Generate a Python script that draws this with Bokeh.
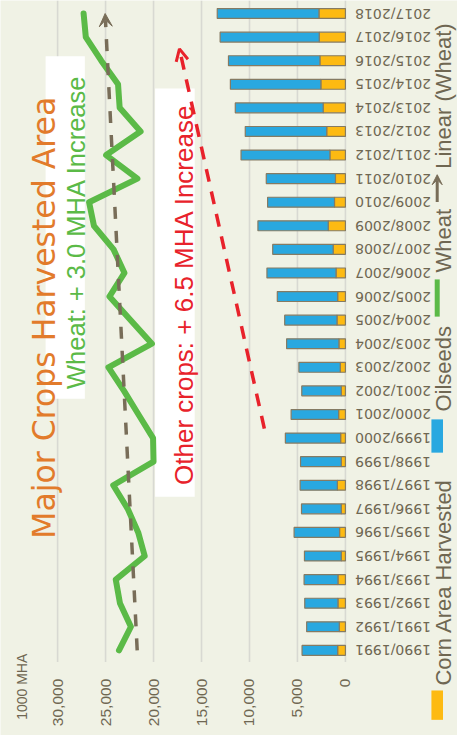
import math
import numpy as np
from bokeh.plotting import figure
from bokeh.models import (ColumnDataSource, Range1d, Label, Arrow, VeeHead, OpenHead,
                          BoxAnnotation)
from bokeh.core.properties import value
from bokeh.embed import file_html
from bokeh.resources import INLINE

# ---------------- data ----------------
seasons = ["1990/1991", "1991/1992", "1992/1993", "1993/1994", "1994/1995",
           "1995/1996", "1996/1997", "1997/1998", "1998/1999", "1999/2000",
           "2000/2001", "2001/2002", "2002/2003", "2003/2004", "2004/2005",
           "2005/2006", "2006/2007", "2007/2008", "2008/2009", "2009/2010",
           "2010/2011", "2011/2012", "2012/2013", "2013/2014", "2014/2015",
           "2015/2016", "2016/2017", "2017/2018"]
corn = [810, 640, 780, 780, 430, 610, 430, 840, 430, 500,
        710, 430, 540, 680, 880, 810, 980, 1280, 1790, 1140,
        1040, 1620, 1950, 2320, 2560, 2660, 2730, 2760]
oilseeds = [3710, 3400, 3460, 3530, 3840, 4740, 4150, 3880, 4250, 5760,
            4950, 4120, 4310, 5450, 5450, 6290, 7200, 6300, 7330, 6970,
            7210, 9260, 8490, 9160, 9430, 9530, 10330, 10600]
wheat = [23600, 22360, 23500, 23940, 20920, 21600, 22690, 24200, 20000, 20050,
         21570, 23080, 24700, 20170, 22380, 24600, 23030, 24170, 26210, 26720,
         21680, 24940, 21350, 23530, 23700, 25450, 27060, 27290]
value_ticks = [0, 5000, 10000, 15000, 20000, 25000, 30000]
value_tick_labels = ["0", "5,000", "10,000", "15,000", "20,000", "25,000", "30,000"]
other_trend_idx = [9.4, 25.5]
other_trend_val = [8450, 17300]

# ---------------- geometry (reference pixels -> data) ----------------
W, H = 457, 735
X0_REF, PX_PER_UNIT = 357.0, 0.00993
Y_FIRST, Y_STEP = 664.0, 24.1


def vx(xr):
    return (X0_REF - xr) / PX_PER_UNIT


def vy(yr):
    return (Y_FIRST - yr) / Y_STEP


BG = "#f0f2e5"
GRID = "#d8d9d2"
CORN_C = "#FDBA12"
OIL_C = "#29A8E0"
BAR_LINE = "#857b63"
WHEAT_C = "#5BBA47"
TREND_C = "#786d58"
RED = "#E8222B"
TITLE_C = "#E27B2B"
TEXT_C = "#6f6752"

idx = list(range(len(seasons)))
total = [c + o for c, o in zip(corn, oilseeds)]
src = ColumnDataSource(dict(idx=idx, corn=corn, total=total, wheat=wheat))

p = figure(width=W, height=H, output_backend="svg", toolbar_location=None,
           x_range=Range1d(vx(0), vx(473)), y_range=Range1d(vy(751), vy(0)),
           x_axis_location=None, y_axis_location=None,
           min_border_left=0, min_border_top=0, min_border_right=0, min_border_bottom=0)
p.background_fill_color = BG
p.border_fill_color = BG
p.outline_line_color = None
p.grid.visible = False

# value grid lines
p.segment(x0=value_ticks, y0=[vy(676)] * len(value_ticks),
          x1=value_ticks, y1=[vy(0)] * len(value_ticks),
          line_color=GRID, line_width=1.6)

# value tick labels (rotated)
p.text(x=value_ticks, y=[vy(693)] * len(value_ticks), text=value_tick_labels,
       angle=math.pi / 2, text_align="right", text_baseline="middle",
       text_font=value("Liberation Sans"), text_font_size=value("15.5px"),
       text_color=TEXT_C)

# category labels (upside down, as in the rotated slide)
p.text(x=[vx(367)] * len(idx), y=idx, text=seasons,
       angle=math.pi, text_align="right", text_baseline="middle",
       text_font=value("DejaVu Sans"), text_font_size=value("14px"),
       text_color=TEXT_C)

# white annotation boxes
p.quad(left=[vx(87.3), vx(201)], right=[vx(46.7), vx(160)],
       top=[vy(57), vy(90)], bottom=[vy(407), vy(507)],
       fill_color="white", line_color=None)

# bars
p.hbar(y="idx", left=0, right="corn", height=0.42, source=src,
       fill_color=CORN_C, line_color=BAR_LINE, line_width=1.2)
p.hbar(y="idx", left="corn", right="total", height=0.42, source=src,
       fill_color=OIL_C, line_color=BAR_LINE, line_width=1.2)

# wheat line
p.line(x="wheat", y="idx", source=src, line_color=WHEAT_C, line_width=6,
       line_join="round", line_cap="round")

# linear trend of wheat
slope, icpt = np.polyfit(idx, wheat, 1)
t0, t1 = icpt + slope * idx[0], icpt + slope * idx[-1]
p.add_layout(Arrow(end=VeeHead(size=13, fill_color=TREND_C, line_color=TREND_C),
                   x_start=t0, y_start=idx[0], x_end=t1, y_end=idx[-1],
                   line_color=TREND_C, line_width=3.5, line_dash="12 12"))

# other crops trend arrow
p.add_layout(Arrow(end=OpenHead(size=12, line_color=RED, line_width=3),
                   x_start=other_trend_val[0], y_start=other_trend_idx[0],
                   x_end=other_trend_val[1], y_end=other_trend_idx[1],
                   line_color=RED, line_width=3.5, line_dash="13 10"))


def vlabel(text, xr, yr, size, color, font="Liberation Sans"):
    return Label(x=vx(xr), y=vy(yr), text=text, angle=math.pi / 2,
                 text_font=font, text_font_size=f"{size}px", text_color=color,
                 text_align="left", text_baseline="alphabetic")


p.add_layout(vlabel("Major Crops Harvested Area", 45, 550, 31.5, TITLE_C, "DejaVu Sans"))
p.add_layout(vlabel("Wheat: + 3.0 MHA Increase", 78, 397, 25.5, WHEAT_C))
p.add_layout(vlabel("Other crops: + 6.5 MHA Increase", 190, 495, 26, RED))
p.add_layout(vlabel("1000 MHA", 22.7, 735, 14, TEXT_C))

# legend (rotated)
LX = 459.0
LF = 22
p.add_layout(BoxAnnotation(left=vx(446), right=vx(458), top=vy(705), bottom=vy(735),
                           fill_color=CORN_C, fill_alpha=1, line_color=None))
p.add_layout(vlabel("Corn Area Harvested", LX, 700, LF, TEXT_C))
p.add_layout(BoxAnnotation(left=vx(446), right=vx(458), top=vy(428), bottom=vy(462),
                           fill_color=OIL_C, fill_alpha=1, line_color=None))
p.add_layout(vlabel("Oilseeds", LX, 420, LF, TEXT_C))
p.add_layout(Arrow(end=None, x_start=vx(452), y_start=vy(323), x_end=vx(452), y_end=vy(285),
                   line_color=WHEAT_C, line_width=5))
p.add_layout(vlabel("Wheat", LX, 278, LF, TEXT_C))
p.add_layout(Arrow(end=VeeHead(size=10, fill_color=TREND_C, line_color=TREND_C),
                   x_start=vx(452), y_start=vy(206), x_end=vx(452), y_end=vy(178),
                   line_color=TREND_C, line_width=3))
p.add_layout(vlabel("Linear (Wheat)", LX, 172, LF, TEXT_C))

open("out.html", "w").write(file_html(p, INLINE))
